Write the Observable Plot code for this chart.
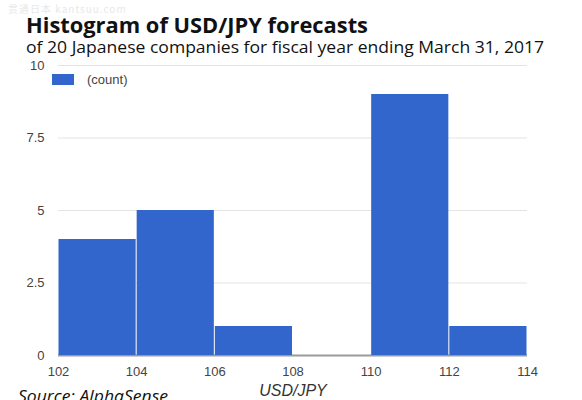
<!DOCTYPE html>
<html>
<head>
<meta charset="utf-8">
<script src="https://cdn.jsdelivr.net/npm/d3@7"></script>
<script src="https://cdn.jsdelivr.net/npm/@observablehq/plot@0.6"></script>
<style>
  html, body { margin: 0; padding: 0; background: #fff; }
  #wrap { position: relative; width: 582px; height: 400px; overflow: hidden; }
  #wrap svg { position: absolute; left: 0; top: 0; }
  .t { position: absolute; white-space: nowrap; color: #111; transform-origin: 0 0; }
  #wm { left: 8px; top: 3px; font-family: "Noto Sans CJK SC", sans-serif; font-size: 10px; line-height: 11px; color: #e8e8e8; letter-spacing: 1px; }
  #title { left: 26px; top: 14px; font-family: "Open Sans", sans-serif; font-weight: 700; font-size: 21px; line-height: 22px; }
  #subtitle { left: 26px; top: 38.4px; font-family: "Open Sans", sans-serif; font-size: 17px; line-height: 18px; }
  #legend { left: 52px; top: 72px; font-family: "Liberation Sans", Arial, sans-serif; font-size: 13px; color: #444; display: flex; align-items: center; }
  #legend .sw { width: 22px; height: 11px; background: #3366cc; margin-right: 13px; }
  #source { left: 18px; top: 384px; font-family: "Open Sans", sans-serif; font-style: italic; font-size: 17px; }
</style>
</head>
<body>
<div id="wrap">
  <div class="t" id="wm">贯通日本 kantsuu.com</div>
  <div class="t" id="title">Histogram of USD/JPY forecasts</div>
  <div class="t" id="subtitle">of 20 Japanese companies for fiscal year ending March 31, 2017</div>
</div>
<script>
const binStart = [102, 104, 106, 108, 110, 112];
const binEnd   = [104, 106, 108, 110, 112, 114];
const counts   = [4, 5, 1, 0, 9, 1];
const yTicks = [0, 2.5, 5, 7.5, 10];
const xTicks = [102, 104, 106, 108, 110, 112, 114];
const seriesName = "(count)";
const xLabel = "USD/JPY";
const sourceText = "Source: AlphaSense";

const data = binStart.map((s, i) => ({x1: s, x2: binEnd[i], y: counts[i]}));

const chart = Plot.plot({
  width: 582,
  height: 400,
  marginLeft: 58,
  marginRight: 55,
  marginTop: 65,
  marginBottom: 45,
  style: { fontFamily: "'Liberation Sans', Arial, sans-serif", fontSize: "13px", color: "#444", background: "transparent" },
  x: { domain: [102, 114] },
  y: { domain: [0, 10] },
  marks: [
    Plot.ruleY(yTicks.filter(d => d > 0), { stroke: "#e4e4e4", strokeWidth: 1 }),
    Plot.ruleY([0], { stroke: "#9a9a9a", strokeWidth: 2 }),
    Plot.rectY(data.filter(d => d.y > 0), { x1: "x1", x2: "x2", y: "y", fill: "#3366cc", insetLeft: 0.5, insetRight: 0.5 }),
    Plot.axisY({ ticks: yTicks, tickSize: 0, tickPadding: 14, tickFormat: d => String(d), label: null, fill: "#444" }),
    Plot.axisX({ ticks: xTicks, tickSize: 0, tickPadding: 11, tickFormat: d => String(d), label: xLabel, labelAnchor: "center", labelArrow: "none", labelOffset: 40, fill: "#444" })
  ]
});
const wrap = document.getElementById("wrap");
wrap.insertBefore(chart, wrap.firstChild);
chart.querySelectorAll("text").forEach(t => {
  if (t.textContent === xLabel) { t.style.fontStyle = "italic"; t.style.fontSize = "16px"; t.setAttribute("fill", "#333"); }
});

const legend = document.createElement("div");
legend.className = "t"; legend.id = "legend";
legend.innerHTML = `<div class="sw"></div><span></span>`;
legend.querySelector("span").textContent = seriesName;
wrap.appendChild(legend);

const src = document.createElement("div");
src.className = "t"; src.id = "source";
src.textContent = sourceText;
wrap.appendChild(src);

function fit(id, w) {
  const el = document.getElementById(id);
  const cur = el.getBoundingClientRect().width;
  el.style.transform = `scaleX(${w / cur})`;
}
fit("title", 342);
fit("subtitle", 518);
fit("source", 150);
</script>
</body>
</html>
